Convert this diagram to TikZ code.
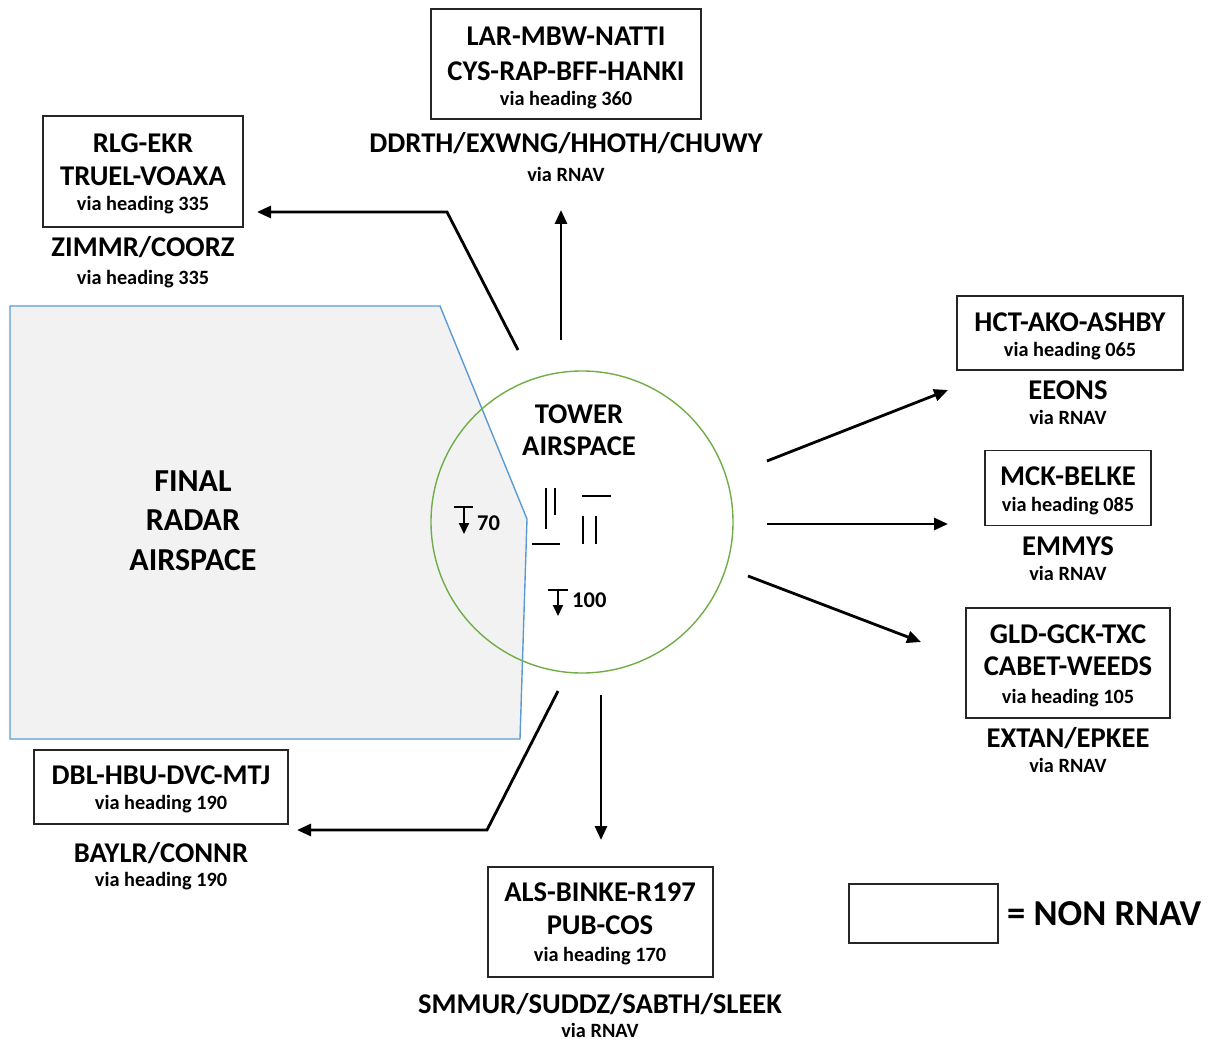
\documentclass[tikz,border=0pt]{standalone}
\usepackage{fontspec}
\setmainfont{Carlito}
\usetikzlibrary{arrows.meta}
\definecolor{radarfill}{RGB}{242,242,242}
\definecolor{radaredge}{RGB}{91,155,213}
\definecolor{towergreen}{RGB}{112,173,71}
\begin{document}
\begin{tikzpicture}[x=1pt,y=-1pt,
  routebox/.style={draw=black!85, line width=1.3pt, inner sep=0pt},
  big/.style={anchor=base, inner sep=0pt, font=\bfseries\fontsize{28.6}{31}\selectfont},
  small/.style={anchor=base, inner sep=0pt, font=\bfseries\fontsize{20.3}{23}\selectfont},
  huge/.style={anchor=base, inner sep=0pt, font=\bfseries\fontsize{32}{35}\selectfont},
  alttext/.style={anchor=base west, inner sep=0pt, font=\bfseries\fontsize{22.5}{25}\selectfont},
  route/.style={line width=2.8pt, -{Triangle[length=14pt,width=12pt]}},
  runway/.style={line width=2.7pt},
  altbar/.style={line width=1.4pt},
  altarrow/.style={line width=1.8pt, -{Triangle[length=11pt,width=10pt]}}]
\useasboundingbox (0,0) rectangle (1213,1043);

% final radar airspace
\draw[fill=radarfill, draw=radaredge, line width=1.4pt]
  (10,306) -- (440,306) -- (527,519) -- (520,739) -- (10,739) -- cycle;
\node[huge] (finalA) at (193,491) {FINAL};
\node[huge] (finalB) at (193,530) {RADAR};
\node[huge] (finalC) at (193,570) {AIRSPACE};

% tower airspace
\node[draw=towergreen, line width=1.4pt, circle, minimum size=302pt, inner sep=0pt] (tower) at (582,522) {};
\node[big] (towerA) at (579,423) {TOWER};
\node[big] (towerB) at (579,455) {AIRSPACE};

% runways
\draw[runway] (546,488) -- (546,529);
\draw[runway] (555,488) -- (555,515);
\draw[runway] (532,544) -- (560,544);
\draw[runway] (582,496) -- (611,496);
\draw[runway] (583,516) -- (583,544);
\draw[runway] (596,516) -- (596,544);

% altitude restrictions
\draw[altbar] (454,507) -- (473,507);
\draw[altarrow] (464,507) -- (464,534);
\node[alttext] (alt70) at (477,530) {70};
\draw[altbar] (548,590) -- (568,590);
\draw[altarrow] (558,590) -- (558,616);
\node[alttext] (alt100) at (572,607) {100};

% north
\node[routebox, minimum width=270pt, minimum height=110pt] (boxN) at (566,64) {};
\node[big] (nA) at (566,46) {LAR-MBW-NATTI};
\node[big] (nB) at (566,81) {CYS-RAP-BFF-HANKI};
\node[small] (nC) at (566,106) {via heading 360};
\node[big] (nD) at (566,153) {DDRTH/EXWNG/HHOTH/CHUWY};
\node[small] (nE) at (566,182) {via RNAV};

% north-west
\node[routebox, minimum width=200pt, minimum height=111pt] (boxNW) at (143,171.5) {};
\node[big] (nwA) at (143,153) {RLG-EKR};
\node[big] (nwB) at (143,186) {TRUEL-VOAXA};
\node[small] (nwC) at (143,211) {via heading 335};
\node[big] (nwD) at (143,257) {ZIMMR/COORZ};
\node[small] (nwE) at (143,284) {via heading 335};

% east, heading 065
\node[routebox, minimum width=226pt, minimum height=74pt] (boxE1) at (1070,333) {};
\node[big] (e1A) at (1070,331) {HCT-AKO-ASHBY};
\node[small] (e1B) at (1070,356) {via heading 065};
\node[big] (e1C) at (1068,399) {EEONS};
\node[small] (e1D) at (1068,424) {via RNAV};

% east, heading 085
\node[routebox, minimum width=166pt, minimum height=75pt] (boxE2) at (1068,488) {};
\node[big] (e2A) at (1068,485) {MCK-BELKE};
\node[small] (e2B) at (1068,511) {via heading 085};
\node[big] (e2C) at (1068,555) {EMMYS};
\node[small] (e2D) at (1068,580) {via RNAV};

% east, heading 105
\node[routebox, minimum width=204pt, minimum height=110pt] (boxE3) at (1068,663) {};
\node[big] (e3A) at (1068,643) {GLD-GCK-TXC};
\node[big] (e3B) at (1068,675) {CABET-WEEDS};
\node[small] (e3C) at (1068,703) {via heading 105};
\node[big] (e3D) at (1068,747) {EXTAN/EPKEE};
\node[small] (e3E) at (1068,772) {via RNAV};

% south-west
\node[routebox, minimum width=254pt, minimum height=74pt] (boxSW) at (161,787) {};
\node[big] (swA) at (161,784) {DBL-HBU-DVC-MTJ};
\node[small] (swB) at (161,809) {via heading 190};
\node[big] (swC) at (161,862) {BAYLR/CONNR};
\node[small] (swD) at (161,886) {via heading 190};

% south
\node[routebox, minimum width=225pt, minimum height=110pt] (boxS) at (600.5,922) {};
\node[big] (sA) at (600,901) {ALS-BINKE-R197};
\node[big] (sB) at (600,934) {PUB-COS};
\node[small] (sC) at (600,961) {via heading 170};
\node[big] (sD) at (600,1013) {SMMUR/SUDDZ/SABTH/SLEEK};
\node[small] (sE) at (600,1037) {via RNAV};

% legend
\node[routebox, minimum width=149pt, minimum height=59pt] (legendBox) at (923.5,913.5) {};
\node[anchor=base west, inner sep=0pt, font=\bfseries\fontsize{36.5}{39}\selectfont] (legendText) at (1007,925) {= NON RNAV};

% departure routes
\coordinate (nStart) at (561,340);
\coordinate (nEnd) at (561,210);
\coordinate (nwStart) at (518,350);
\coordinate (nwBend) at (447,212);
\coordinate (nwEnd) at (257,212);
\coordinate (e1Start) at (767,461);
\coordinate (e1End) at (948,390);
\coordinate (e2Start) at (767,524);
\coordinate (e2End) at (948,524);
\coordinate (e3Start) at (748,576);
\coordinate (e3End) at (921,642);
\coordinate (sStart) at (601,695);
\coordinate (sEnd) at (601,840);
\coordinate (swStart) at (558,691);
\coordinate (swBend) at (487,830);
\coordinate (swEnd) at (297,830);

\draw[route] (nStart) -- (nEnd);
\draw[route] (nwStart) -- (nwBend) -- (nwEnd);
\draw[route] (e1Start) -- (e1End);
\draw[route] (e2Start) -- (e2End);
\draw[route] (e3Start) -- (e3End);
\draw[route] (sStart) -- (sEnd);
\draw[route] (swStart) -- (swBend) -- (swEnd);
\end{tikzpicture}
\end{document}
